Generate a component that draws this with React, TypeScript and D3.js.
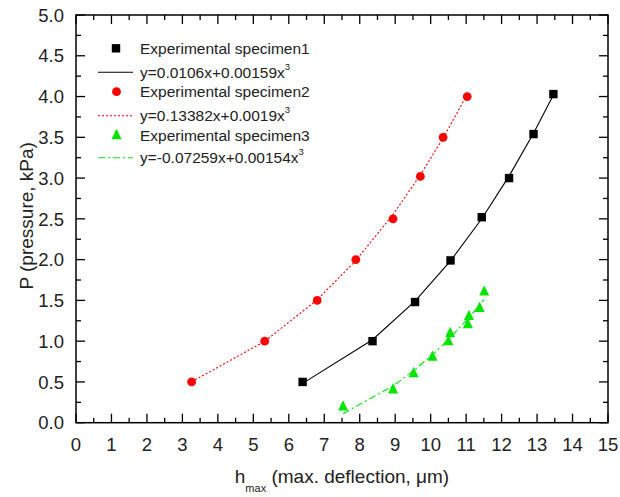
import React from "react";
import * as d3 from "d3";

const xTicks = [0, 1, 2, 3, 4, 5, 6, 7, 8, 9, 10, 11, 12, 13, 14, 15];
const yTicks = [0, 0.5, 1, 1.5, 2, 2.5, 3, 3.5, 4, 4.5, 5];

const s1X = [6.39, 8.36, 9.56, 10.56, 11.44, 12.21, 12.9, 13.46];
const s1P = [0.5, 1.0, 1.48, 1.99, 2.52, 3.0, 3.54, 4.03];
const s2X = [3.26, 5.32, 6.8, 7.89, 8.94, 9.71, 10.35, 11.03];
const s2P = [0.5, 1.0, 1.5, 2.0, 2.5, 3.02, 3.5, 4.0];
const s3X = [7.53, 8.94, 9.52, 10.05, 10.5, 10.55, 11.05, 11.08, 11.38, 11.51];
const s3P = [0.2, 0.41, 0.61, 0.81, 1.0, 1.1, 1.21, 1.31, 1.41, 1.61];

// fit coefficients shown in legend: y = a*x + b*x^3
const fitA = [0.0106, 0.13382, -0.07259];
const fitB = [0.00159, 0.0019, 0.00154];
const fitLabels = ["y=0.0106x+0.00159x", "y=0.13382x+0.0019x", "y=-0.07259x+0.00154x"];
const specLabels = ["Experimental specimen1", "Experimental specimen2", "Experimental specimen3"];

const W = 620, H = 497;
const L = 76, R = 608, T = 15, B = 422.7;
const FONT = "Liberation Sans, Arial, Helvetica, sans-serif";

export default function App() {
  const x = d3.scaleLinear().domain([0, 15]).range([L, R]);
  const y = d3.scaleLinear().domain([0, 5]).range([B, T]);
  const xMinor = d3.range(0.5, 15, 1);
  const yMinor = d3.range(0.25, 5, 0.5);
  const MAJ = 9, MIN = 5;

  const line = d3.line<[number, number]>().x(d => x(d[0])).y(d => y(d[1]));
  const fitPts = (xs: number[], i: number): [number, number][] =>
    xs.map(v => [v, fitA[i] * v + fitB[i] * v * v * v]);

  const colors = ["#000000", "#ff0000", "#00e600"];
  const dashes = [undefined, "2,2", "7,3,2,3"];

  const tri = (cx: number, cy: number, s: number) =>
    `M${cx},${cy - s * 0.62}L${cx + s / 2},${cy + s * 0.42}L${cx - s / 2},${cy + s * 0.42}Z`;

  const legendRows = [48.3, 72.3, 91.7, 115.7, 135, 157.7];

  return (
    <svg width={W} height={H} style={{ position: "absolute", left: 0, top: 0, background: "#fff" }} fontFamily={FONT}>
      <rect x={0} y={0} width={W} height={H} fill="#fff" />
      {/* fit lines */}
      <path d={line(fitPts(s1X, 0)) || ""} fill="none" stroke={colors[0]} strokeWidth={1.1} />
      <path d={line(fitPts(s2X, 1)) || ""} fill="none" stroke={colors[1]} strokeWidth={1.1} strokeDasharray={dashes[1]} />
      <path d={line(fitPts(s3X, 2)) || ""} fill="none" stroke={colors[2]} strokeWidth={1.1} strokeDasharray={dashes[2]} />
      {/* markers */}
      {s1X.map((v, i) => (
        <rect key={"a" + i} x={x(v) - 4.2} y={y(s1P[i]) - 4.2} width={8.4} height={8.4} fill="#000" />
      ))}
      {s2X.map((v, i) => (
        <circle key={"b" + i} cx={x(v)} cy={y(s2P[i])} r={4.4} fill={colors[1]} />
      ))}
      {s3X.map((v, i) => (
        <path key={"c" + i} d={tri(x(v), y(s3P[i]), 10)} fill={colors[2]} />
      ))}
      {/* frame */}
      <rect x={L} y={T} width={R - L} height={B - T} fill="none" stroke="#000" strokeWidth={1.5} />
      {xTicks.map(t => (
        <g key={"xt" + t}>
          <line x1={x(t)} x2={x(t)} y1={B} y2={B - MAJ} stroke="#000" strokeWidth={1.3} />
          <line x1={x(t)} x2={x(t)} y1={T} y2={T + MAJ} stroke="#000" strokeWidth={1.3} />
          <text x={x(t)} y={451} textAnchor="middle" fontSize={18.5} fill="#222">{t}</text>
        </g>
      ))}
      {xMinor.map(t => (
        <g key={"xm" + t}>
          <line x1={x(t)} x2={x(t)} y1={B} y2={B - MIN} stroke="#000" strokeWidth={1.3} />
          <line x1={x(t)} x2={x(t)} y1={T} y2={T + MIN} stroke="#000" strokeWidth={1.3} />
        </g>
      ))}
      {yTicks.map(t => (
        <g key={"yt" + t}>
          <line x1={L} x2={L + MAJ} y1={y(t)} y2={y(t)} stroke="#000" strokeWidth={1.3} />
          <line x1={R} x2={R - MAJ} y1={y(t)} y2={y(t)} stroke="#000" strokeWidth={1.3} />
          <text x={64} y={y(t)} dy="0.36em" textAnchor="end" fontSize={18.5} fill="#222">{t.toFixed(1)}</text>
        </g>
      ))}
      {yMinor.map(t => (
        <g key={"ym" + t}>
          <line x1={L} x2={L + MIN} y1={y(t)} y2={y(t)} stroke="#000" strokeWidth={1.3} />
          <line x1={R} x2={R - MIN} y1={y(t)} y2={y(t)} stroke="#000" strokeWidth={1.3} />
        </g>
      ))}
      {/* axis titles */}
      <text x={(L + R) / 2} y={483} textAnchor="middle" fontSize={19} fill="#222">
        <tspan>h</tspan>
        <tspan fontSize={11} dy={9}>max</tspan>
        <tspan dy={-9}> (max. deflection, μm)</tspan>
      </text>
      <text transform={`translate(33,${(T + B) / 2 - 3}) rotate(-90)`} textAnchor="middle" fontSize={19} fill="#222">
        P (pressure, kPa)
      </text>
      {/* legend */}
      <rect x={116 - 4.2} y={legendRows[0] - 4.2} width={8.4} height={8.4} fill="#000" />
      <circle cx={116.5} cy={legendRows[2]} r={4.4} fill={colors[1]} />
      <path d={tri(116.5, legendRows[4], 10)} fill={colors[2]} />
      {[0, 1, 2].map(i => (
        <g key={"lg" + i}>
          <line x1={98} x2={133} y1={legendRows[i * 2 + 1]} y2={legendRows[i * 2 + 1]} stroke={colors[i]} strokeWidth={1.1} strokeDasharray={dashes[i]} />
          <text x={140} y={legendRows[i * 2]} dy="0.36em" fontSize={15.5} fill="#222">{specLabels[i]}</text>
          <text x={140} y={legendRows[i * 2 + 1]} dy="0.36em" fontSize={15.5} fill="#222">
            {fitLabels[i]}
            <tspan fontSize={9.5} dy={-8}>3</tspan>
          </text>
        </g>
      ))}
    </svg>
  );
}
